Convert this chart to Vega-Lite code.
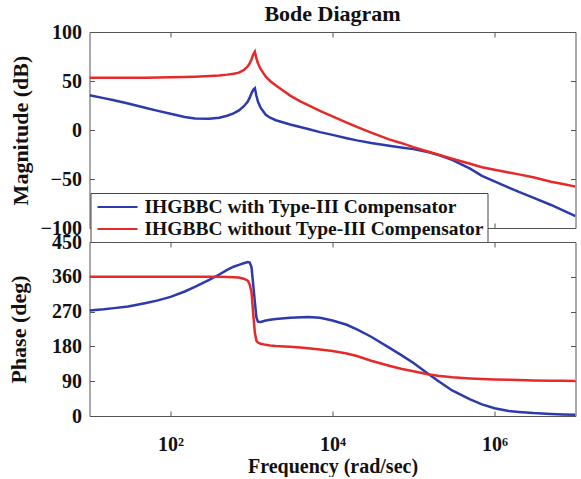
{
  "$schema": "https://vega.github.io/schema/vega-lite/v6.json",
  "padding": {"left": 6.5, "top": 2, "right": 4, "bottom": 0},
  "background": "white",
  "bounds": "flush",
  "spacing": 14,
  "config": {
    "font": "Liberation Serif",
    "view": {"stroke": "#555", "strokeWidth": 1},
    "axis": {
      "grid": false,
      "domain": false,
      "tickColor": "#555",
      "tickSize": -5,
      "labelFont": "Liberation Serif",
      "labelFontWeight": "bold",
      "labelFontSize": 20,
      "labelColor": "#111",
      "titleFont": "Liberation Serif",
      "titleFontWeight": "bold",
      "titleFontSize": 22,
      "titleColor": "#111"
    },
    "title": {"font": "Liberation Serif", "fontWeight": "bold", "fontSize": 22, "color": "#111", "offset": -4}
  },
  "resolve": {"scale": {"color": "independent"}, "legend": {"color": "independent"}},
  "datasets": {
    "bode": [
      {"freq": 10, "series": "IHGBBC with Type-III Compensator", "mag": 35.5, "ph": 273},
      {"freq": 15, "series": "IHGBBC with Type-III Compensator", "mag": 32.5, "ph": 276},
      {"freq": 20, "series": "IHGBBC with Type-III Compensator", "mag": 30.3, "ph": 279},
      {"freq": 30, "series": "IHGBBC with Type-III Compensator", "mag": 27, "ph": 283},
      {"freq": 50, "series": "IHGBBC with Type-III Compensator", "mag": 22.4, "ph": 292},
      {"freq": 70, "series": "IHGBBC with Type-III Compensator", "mag": 19.5, "ph": 299},
      {"freq": 100, "series": "IHGBBC with Type-III Compensator", "mag": 16.5, "ph": 308},
      {"freq": 150, "series": "IHGBBC with Type-III Compensator", "mag": 13.3, "ph": 322},
      {"freq": 200, "series": "IHGBBC with Type-III Compensator", "mag": 11.8, "ph": 334},
      {"freq": 300, "series": "IHGBBC with Type-III Compensator", "mag": 11.5, "ph": 352},
      {"freq": 400, "series": "IHGBBC with Type-III Compensator", "mag": 12.6, "ph": 366},
      {"freq": 500, "series": "IHGBBC with Type-III Compensator", "mag": 14.5, "ph": 378},
      {"freq": 600, "series": "IHGBBC with Type-III Compensator", "mag": 17, "ph": 386},
      {"freq": 700, "series": "IHGBBC with Type-III Compensator", "mag": 20, "ph": 391},
      {"freq": 800, "series": "IHGBBC with Type-III Compensator", "mag": 24, "ph": 395},
      {"freq": 900, "series": "IHGBBC with Type-III Compensator", "mag": 29, "ph": 398},
      {"freq": 950, "series": "IHGBBC with Type-III Compensator", "mag": 33, "ph": 397},
      {"freq": 1000, "series": "IHGBBC with Type-III Compensator", "mag": 37.5, "ph": 385},
      {"freq": 1050, "series": "IHGBBC with Type-III Compensator", "mag": 41, "ph": 340},
      {"freq": 1100, "series": "IHGBBC with Type-III Compensator", "mag": 42.6, "ph": 295},
      {"freq": 1150, "series": "IHGBBC with Type-III Compensator", "mag": 35, "ph": 255},
      {"freq": 1200, "series": "IHGBBC with Type-III Compensator", "mag": 29, "ph": 244},
      {"freq": 1300, "series": "IHGBBC with Type-III Compensator", "mag": 22.5, "ph": 243},
      {"freq": 1500, "series": "IHGBBC with Type-III Compensator", "mag": 15.5, "ph": 247},
      {"freq": 1700, "series": "IHGBBC with Type-III Compensator", "mag": 12.5, "ph": 249},
      {"freq": 2000, "series": "IHGBBC with Type-III Compensator", "mag": 10, "ph": 251},
      {"freq": 3000, "series": "IHGBBC with Type-III Compensator", "mag": 5.6, "ph": 254},
      {"freq": 5000, "series": "IHGBBC with Type-III Compensator", "mag": 1, "ph": 256},
      {"freq": 7000, "series": "IHGBBC with Type-III Compensator", "mag": -2.2, "ph": 254},
      {"freq": 10000, "series": "IHGBBC with Type-III Compensator", "mag": -5, "ph": 247},
      {"freq": 15000, "series": "IHGBBC with Type-III Compensator", "mag": -8.4, "ph": 236},
      {"freq": 20000, "series": "IHGBBC with Type-III Compensator", "mag": -10.6, "ph": 224},
      {"freq": 30000, "series": "IHGBBC with Type-III Compensator", "mag": -13.2, "ph": 205},
      {"freq": 50000, "series": "IHGBBC with Type-III Compensator", "mag": -16, "ph": 177},
      {"freq": 70000, "series": "IHGBBC with Type-III Compensator", "mag": -17.8, "ph": 158},
      {"freq": 100000, "series": "IHGBBC with Type-III Compensator", "mag": -19.5, "ph": 137},
      {"freq": 150000, "series": "IHGBBC with Type-III Compensator", "mag": -22.5, "ph": 110},
      {"freq": 200000, "series": "IHGBBC with Type-III Compensator", "mag": -25.3, "ph": 91},
      {"freq": 300000, "series": "IHGBBC with Type-III Compensator", "mag": -30.5, "ph": 66},
      {"freq": 500000, "series": "IHGBBC with Type-III Compensator", "mag": -39.5, "ph": 43},
      {"freq": 700000, "series": "IHGBBC with Type-III Compensator", "mag": -46.8, "ph": 30},
      {"freq": 1000000, "series": "IHGBBC with Type-III Compensator", "mag": -52.4, "ph": 20},
      {"freq": 1500000, "series": "IHGBBC with Type-III Compensator", "mag": -58.8, "ph": 13},
      {"freq": 2000000, "series": "IHGBBC with Type-III Compensator", "mag": -63.2, "ph": 10.5},
      {"freq": 3000000, "series": "IHGBBC with Type-III Compensator", "mag": -69, "ph": 7.5},
      {"freq": 5000000, "series": "IHGBBC with Type-III Compensator", "mag": -76.5, "ph": 5},
      {"freq": 7000000, "series": "IHGBBC with Type-III Compensator", "mag": -82, "ph": 4},
      {"freq": 10000000, "series": "IHGBBC with Type-III Compensator", "mag": -88, "ph": 3.5},
      {"freq": 10, "series": "IHGBBC without Type-III Compensator", "mag": 53.3, "ph": 360},
      {"freq": 15, "series": "IHGBBC without Type-III Compensator", "mag": 53.3, "ph": 360},
      {"freq": 20, "series": "IHGBBC without Type-III Compensator", "mag": 53.3, "ph": 360},
      {"freq": 30, "series": "IHGBBC without Type-III Compensator", "mag": 53.3, "ph": 360},
      {"freq": 50, "series": "IHGBBC without Type-III Compensator", "mag": 53.4, "ph": 360},
      {"freq": 70, "series": "IHGBBC without Type-III Compensator", "mag": 53.5, "ph": 360},
      {"freq": 100, "series": "IHGBBC without Type-III Compensator", "mag": 53.7, "ph": 360},
      {"freq": 150, "series": "IHGBBC without Type-III Compensator", "mag": 54, "ph": 360},
      {"freq": 200, "series": "IHGBBC without Type-III Compensator", "mag": 54.3, "ph": 360},
      {"freq": 300, "series": "IHGBBC without Type-III Compensator", "mag": 55, "ph": 360},
      {"freq": 400, "series": "IHGBBC without Type-III Compensator", "mag": 55.6, "ph": 360},
      {"freq": 500, "series": "IHGBBC without Type-III Compensator", "mag": 56.5, "ph": 359.5},
      {"freq": 600, "series": "IHGBBC without Type-III Compensator", "mag": 57.5, "ph": 359},
      {"freq": 700, "series": "IHGBBC without Type-III Compensator", "mag": 58.5, "ph": 358},
      {"freq": 800, "series": "IHGBBC without Type-III Compensator", "mag": 61, "ph": 355},
      {"freq": 900, "series": "IHGBBC without Type-III Compensator", "mag": 65, "ph": 350},
      {"freq": 950, "series": "IHGBBC without Type-III Compensator", "mag": 68, "ph": 340},
      {"freq": 1000, "series": "IHGBBC without Type-III Compensator", "mag": 72, "ph": 320},
      {"freq": 1050, "series": "IHGBBC without Type-III Compensator", "mag": 77, "ph": 265},
      {"freq": 1100, "series": "IHGBBC without Type-III Compensator", "mag": 80, "ph": 215},
      {"freq": 1150, "series": "IHGBBC without Type-III Compensator", "mag": 73, "ph": 195},
      {"freq": 1200, "series": "IHGBBC without Type-III Compensator", "mag": 68, "ph": 190},
      {"freq": 1300, "series": "IHGBBC without Type-III Compensator", "mag": 62, "ph": 187},
      {"freq": 1500, "series": "IHGBBC without Type-III Compensator", "mag": 54.5, "ph": 184},
      {"freq": 1700, "series": "IHGBBC without Type-III Compensator", "mag": 50, "ph": 182.5},
      {"freq": 2000, "series": "IHGBBC without Type-III Compensator", "mag": 45.5, "ph": 181},
      {"freq": 2500, "series": "IHGBBC without Type-III Compensator", "mag": 39.9, "ph": 180},
      {"freq": 3000, "series": "IHGBBC without Type-III Compensator", "mag": 35.1, "ph": 179},
      {"freq": 4000, "series": "IHGBBC without Type-III Compensator", "mag": 29.3, "ph": 177},
      {"freq": 5000, "series": "IHGBBC without Type-III Compensator", "mag": 25.3, "ph": 175},
      {"freq": 7000, "series": "IHGBBC without Type-III Compensator", "mag": 19.6, "ph": 172},
      {"freq": 10000, "series": "IHGBBC without Type-III Compensator", "mag": 14, "ph": 168},
      {"freq": 15000, "series": "IHGBBC without Type-III Compensator", "mag": 7.6, "ph": 161.5},
      {"freq": 20000, "series": "IHGBBC without Type-III Compensator", "mag": 3.1, "ph": 155},
      {"freq": 30000, "series": "IHGBBC without Type-III Compensator", "mag": -2.6, "ph": 143},
      {"freq": 50000, "series": "IHGBBC without Type-III Compensator", "mag": -9.6, "ph": 130},
      {"freq": 70000, "series": "IHGBBC without Type-III Compensator", "mag": -13.2, "ph": 122},
      {"freq": 100000, "series": "IHGBBC without Type-III Compensator", "mag": -17.5, "ph": 115.5},
      {"freq": 150000, "series": "IHGBBC without Type-III Compensator", "mag": -22, "ph": 108},
      {"freq": 200000, "series": "IHGBBC without Type-III Compensator", "mag": -25, "ph": 104},
      {"freq": 300000, "series": "IHGBBC without Type-III Compensator", "mag": -29.3, "ph": 100},
      {"freq": 500000, "series": "IHGBBC without Type-III Compensator", "mag": -34.5, "ph": 97},
      {"freq": 700000, "series": "IHGBBC without Type-III Compensator", "mag": -38, "ph": 95.5},
      {"freq": 1000000, "series": "IHGBBC without Type-III Compensator", "mag": -40.5, "ph": 94.5},
      {"freq": 1500000, "series": "IHGBBC without Type-III Compensator", "mag": -43.4, "ph": 93.5},
      {"freq": 2000000, "series": "IHGBBC without Type-III Compensator", "mag": -45.3, "ph": 92.8},
      {"freq": 3000000, "series": "IHGBBC without Type-III Compensator", "mag": -48.2, "ph": 92},
      {"freq": 5000000, "series": "IHGBBC without Type-III Compensator", "mag": -52.8, "ph": 91.3},
      {"freq": 7000000, "series": "IHGBBC without Type-III Compensator", "mag": -55.2, "ph": 91},
      {"freq": 10000000, "series": "IHGBBC without Type-III Compensator", "mag": -57.8, "ph": 90.8}
    ]
  },
  "vconcat": [
    {
      "data": {"name": "bode"},
      "width": 486,
      "height": 196,
      "title": {"text": "Bode Diagram", "anchor": "middle"},
      "layer": [
        {
          "mark": {"type": "line", "strokeWidth": 2.5, "clip": true},
          "encoding": {
            "x": {"field": "freq", "type": "quantitative",
                  "scale": {"type": "log", "domain": [10, 10000000], "nice": false},
                  "axis": {"orient": "bottom", "values": [100, 10000, 1000000], "labels": false, "title": null}},
            "y": {"field": "mag", "type": "quantitative",
                  "scale": {"domain": [-100, 100], "nice": false},
                  "axis": {"values": [-100, -50, 0, 50, 100], "title": "Magnitude (dB)", "labelPadding": 13, "titlePadding": 8}},
            "color": {"field": "series", "type": "nominal",
                      "scale": {"domain": ["IHGBBC with Type-III Compensator", "IHGBBC without Type-III Compensator"], "range": ["#2d3aad", "#e62a2a"]},
                      "legend": {"orient": "none", "legendX": 1, "legendY": 161, "title": null,
                                 "symbolType": "M-0.7,0H3.3", "symbolSize": 400, "symbolStrokeWidth": 2,
                                 "labelFont": "Liberation Serif", "labelFontWeight": "bold", "labelFontSize": 19.5, "labelColor": "#111",
                                 "labelLimit": 500, "labelOffset": 29, "padding": 3, "rowPadding": 1,
                                 "strokeColor": "#444", "fillColor": "white", "cornerRadius": 0}}
          }
        },
        {
          "mark": {"type": "line", "strokeOpacity": 0},
          "encoding": {
            "x": {"field": "freq", "type": "quantitative",
                  "scale": {"type": "log", "domain": [10, 10000000], "nice": false},
                  "axis": {"orient": "top", "values": [100, 10000, 1000000], "labels": false, "title": null}},
            "y": {"field": "mag", "type": "quantitative",
                  "scale": {"domain": [-100, 100], "nice": false},
                  "axis": {"orient": "right", "values": [-100, -50, 0, 50, 100], "labels": false, "title": null}},
            "detail": {"field": "series"}
          }
        }
      ],
      "resolve": {"axis": {"x": "independent", "y": "independent"}}
    },
    {
      "data": {"name": "bode"},
      "width": 486,
      "height": 174,
      "layer": [
        {
          "mark": {"type": "line", "strokeWidth": 2.5, "clip": true},
          "encoding": {
            "x": {"field": "freq", "type": "quantitative",
                  "scale": {"type": "log", "domain": [10, 10000000], "nice": false},
                  "axis": {"orient": "bottom", "values": [100, 10000, 1000000], "title": "Frequency (rad/sec)",
                           "labelExpr": "datum.value == 100 ? '10²' : datum.value == 10000 ? '10⁴' : '10⁶'",
                           "labelPadding": 23, "titlePadding": 2, "titleFontSize": 20}},
            "y": {"field": "ph", "type": "quantitative",
                  "scale": {"domain": [0, 450], "nice": false},
                  "axis": {"values": [0, 90, 180, 270, 360, 450], "title": "Phase (deg)", "labelPadding": 13, "titlePadding": 21.5}},
            "color": {"field": "series", "type": "nominal",
                      "scale": {"domain": ["IHGBBC with Type-III Compensator", "IHGBBC without Type-III Compensator"], "range": ["#2d3aad", "#e62a2a"]},
                      "legend": null}
          }
        },
        {
          "mark": {"type": "line", "strokeOpacity": 0},
          "encoding": {
            "x": {"field": "freq", "type": "quantitative",
                  "scale": {"type": "log", "domain": [10, 10000000], "nice": false},
                  "axis": {"orient": "top", "values": [100, 10000, 1000000], "labels": false, "title": null}},
            "y": {"field": "ph", "type": "quantitative",
                  "scale": {"domain": [0, 450], "nice": false},
                  "axis": {"orient": "right", "values": [0, 90, 180, 270, 360, 450], "labels": false, "title": null}},
            "detail": {"field": "series"}
          }
        }
      ],
      "resolve": {"axis": {"x": "independent", "y": "independent"}}
    }
  ]
}
